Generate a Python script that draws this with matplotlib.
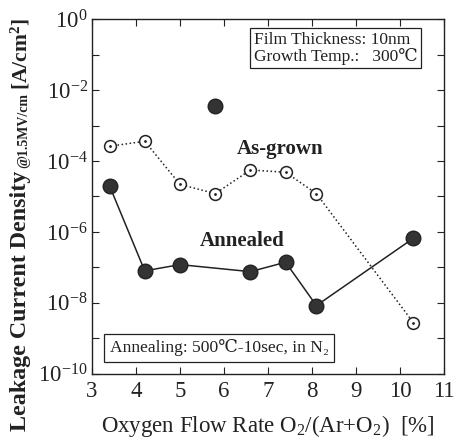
import math
import matplotlib
matplotlib.use('Agg')
import matplotlib.pyplot as plt
from matplotlib.ticker import FixedLocator, FuncFormatter

plt.rcParams['font.family'] = ['Liberation Serif', 'DejaVu Serif']
plt.rcParams['mathtext.fontset'] = 'custom'
plt.rcParams['mathtext.rm'] = 'Liberation Serif'
plt.rcParams['mathtext.it'] = 'Liberation Serif:italic'
plt.rcParams['mathtext.bf'] = 'Liberation Serif:bold'

# data
x_grown = [3.4, 4.2, 5.0, 5.8, 6.6, 7.4, 8.1, 10.3]
y_grown = [2.6e-4, 3.6e-4, 2.2e-5, 1.2e-5, 5.6e-5, 4.8e-5, 1.2e-5, 2.8e-9]

x_ann = [3.4, 4.2, 5.0, 6.6, 7.4, 8.1, 10.3]
y_ann = [2.0e-5, 8.0e-8, 1.2e-7, 7.6e-8, 1.4e-7, 8.4e-9, 6.6e-7]

x_odd = [5.8]
y_odd = [3.6e-3]

xticks = [3, 4, 5, 6, 7, 8, 9, 10, 11]
ydecades = list(range(-10, 1))

fig = plt.figure(figsize=(4.55, 4.44), dpi=100)
ax = fig.add_axes([0.202, 0.158, 0.774, 0.799])

ax.plot(x_grown, y_grown, linestyle=':', color='#222222', linewidth=1.1,
        marker='o', markersize=8.5, markerfacecolor='white',
        markeredgecolor='#222222', markeredgewidth=1.1, zorder=3)
ax.plot(x_grown, y_grown, linestyle='None', marker='.', markersize=2,
        color='#222222', zorder=4)
ax.plot(x_ann, y_ann, linestyle='-', color='#222222', linewidth=1.1,
        marker='o', markersize=10.5, markerfacecolor='#333333',
        markeredgecolor='#222222', zorder=3)
ax.plot(x_odd, y_odd, linestyle='None', marker='o', markersize=10.5,
        markerfacecolor='#333333', markeredgecolor='#222222', zorder=3)

ax.set_yscale('log')
ax.set_xlim(3, 11)
ax.set_ylim(1e-10, 1e0)
ax.set_xticks(xticks)
ax.yaxis.set_major_locator(FixedLocator([10.0 ** d for d in ydecades]))
ax.yaxis.set_minor_locator(FixedLocator([]))


def ylab(v, pos):
    d = int(round(math.log10(v)))
    if d % 2:
        return ''
    return '$\\mathregular{10^{%d}}$' % d


ax.yaxis.set_major_formatter(FuncFormatter(ylab))
ax.tick_params(direction='in', top=True, right=True, length=5, width=0.8,
               labelsize=16.5, colors='#222222')
ax.tick_params(axis='x', pad=5)
ax.tick_params(axis='y', pad=3)
for s in ax.spines.values():
    s.set_linewidth(1.0)
    s.set_color('#222222')

ax.set_xlabel('Oxygen Flow Rate O$_\\mathregular{2}$/(Ar+O$_\\mathregular{2}$)  [%]',
              fontsize=16.5, labelpad=8, color='#222222')

ax.text(6.3, 1.5e-4 * 1.5, 'As-grown', fontsize=15, fontweight='bold',
        ha='left', va='center', color='#222222')
ax.text(5.45, 5.5e-7, 'Annealed', fontsize=15, fontweight='bold',
        ha='left', va='center', color='#222222')

ax.text(0.925, 0.965, 'Film Thickness: 10nm\nGrowth Temp.:   300\u2103',
        transform=ax.transAxes, ha='right', va='top', fontsize=12.5,
        multialignment='left', linespacing=1.0, color='#222222',
        bbox=dict(boxstyle='square,pad=0.2', facecolor='white',
                  edgecolor='#222222', linewidth=0.9))
ax.text(0.05, 0.05, 'Annealing: 500\u2103-10sec, in N\u2082',
        transform=ax.transAxes, ha='left', va='bottom', fontsize=12.6,
        color='#222222',
        bbox=dict(boxstyle='square,pad=0.32', facecolor='white',
                  edgecolor='#222222', linewidth=0.9))

# y label built from three pieces with different weights / sizes
fig.canvas.draw()
r = fig.canvas.get_renderer()
inv = fig.transFigure.inverted()
xl = 0.045
t1 = fig.text(xl, 0.03, 'Leakage Current Density', rotation=90, fontsize=17.3,
              fontweight='bold', ha='center', va='bottom', color='#222222')
bb = inv.transform(t1.get_window_extent(r))
t2 = fig.text(xl + 0.007, bb[1][1] + 0.006, '@1.5MV/cm', rotation=90, fontsize=10,
              fontweight='bold', ha='center', va='bottom', color='#222222')
bb = inv.transform(t2.get_window_extent(r))
fig.text(xl, bb[1][1] + 0.006, '[A/cm$^\\mathbf{2}$]', rotation=90, fontsize=15.5,
         fontweight='bold', ha='center', va='bottom', color='#222222')

fig.savefig('out.png', dpi=100)
